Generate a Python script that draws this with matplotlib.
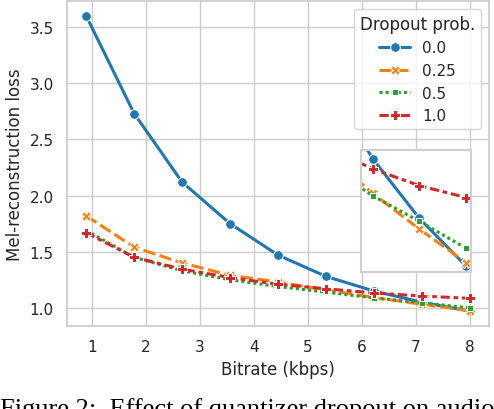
import numpy as np
import pandas as pd
import seaborn as sns
import matplotlib
matplotlib.use("Agg")
import matplotlib.pyplot as plt

# bitrate for 1..9 codebooks (8 kbps at 9 codebooks)
bitrate = [n * 8 / 9 for n in range(1, 10)]
dropout_probs = ["0.0", "0.25", "0.5", "1.0"]

# mel-reconstruction loss
loss_00 = [3.60, 2.73, 2.12, 1.75, 1.47, 1.28, 1.15, 1.05, 0.97]
loss_025 = [1.82, 1.54, 1.40, 1.29, 1.23, 1.16, 1.092, 1.032, 0.976]
loss_05 = [1.69, 1.45, 1.33, 1.25, 1.19, 1.14, 1.088, 1.045, 1.00]
loss_10 = [1.67, 1.45, 1.345, 1.27, 1.21, 1.17, 1.133, 1.105, 1.085]

rows = []
for p, vals in zip(dropout_probs, [loss_00, loss_025, loss_05, loss_10]):
    for b, v in zip(bitrate, vals):
        rows.append({"Bitrate (kbps)": b, "Mel-reconstruction loss": v, "Dropout prob.": p})
df = pd.DataFrame(rows)

sns.set_theme(style="whitegrid", context="notebook")

fig = plt.figure(figsize=(4.94, 4.10), dpi=100)
ax = fig.add_axes([0.1356, 0.2024, 0.8544, 0.7926])

line_kw = dict(x="Bitrate (kbps)", y="Mel-reconstruction loss", hue="Dropout prob.",
               style="Dropout prob.", hue_order=dropout_probs, style_order=dropout_probs,
               palette="tab10", markers=True, dashes=True, linewidth=2.2, markersize=7)

sns.lineplot(data=df, ax=ax, **line_kw)
ax.set_xticks(range(1, 9))
ax.set_yticks([1.0, 1.5, 2.0, 2.5, 3.0, 3.5])
ax.tick_params(labelsize=11)
ax.set_xlabel("Bitrate (kbps)", fontsize=12)
ax.set_ylabel("Mel-reconstruction loss", fontsize=12)
leg = ax.legend(title="Dropout prob.", loc="upper right", fontsize=11, title_fontsize=12)

# zoomed inset for the high bitrates
axins = fig.add_axes([0.731, 0.334, 0.223, 0.298])
sns.lineplot(data=df, ax=axins, legend=False, **line_kw)
axins.set_xlim(6.0, 8.1)
axins.set_ylim(0.96, 1.165)
axins.set_xticks([])
axins.set_yticks([])
axins.set_xlabel("")
axins.set_ylabel("")
for s in axins.spines.values():
    s.set_color("#d0d0d0")
    s.set_linewidth(1.5)

# caption of the paper figure, cut off by the crop like in the source
fig.text(0.0, 0.03, "Figure 2:  Effect of quantizer dropout on audio",
         family="Liberation Serif", fontsize=19, va="top", ha="left", color="black")

fig.savefig("out.png", dpi=100)
